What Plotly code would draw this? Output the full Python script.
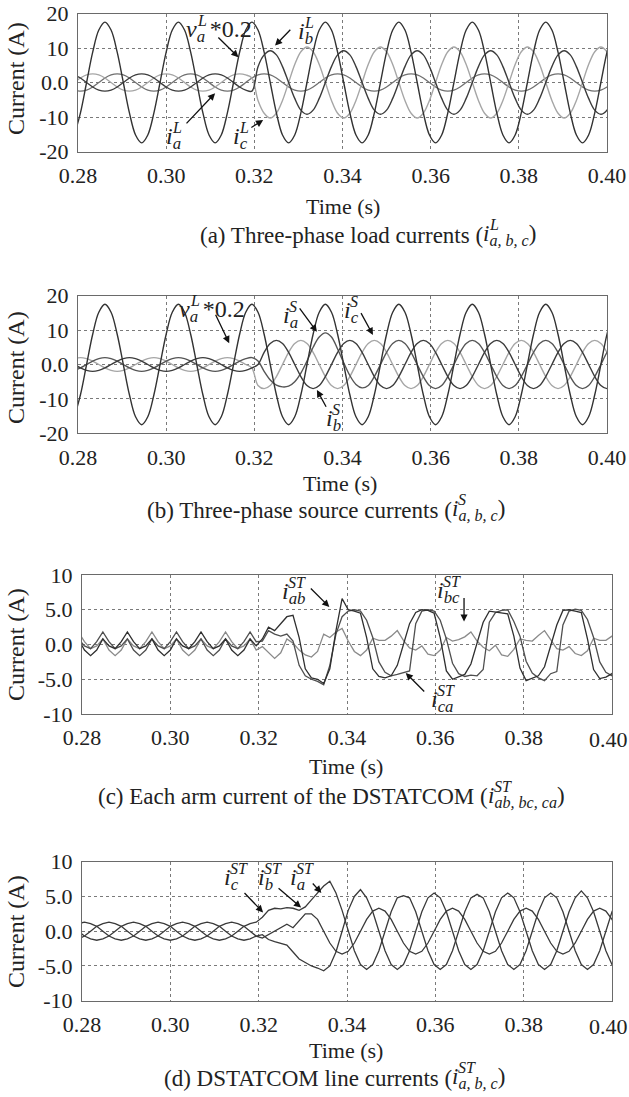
import numpy as np
import plotly.graph_objects as go

# ---------------- sampled data (one sample every 30 electrical degrees, 60 Hz) -------------
SAMPLE_START = 0.279167   # s, first sample instant
SAMPLE_STEP = 1 / 720     # s, sampling step

# (a) load side
VA = [
    -15.2, -8.8, 0.0, 8.8, 15.2, 17.5, 15.2, 8.8, 0.0, -8.8, -15.2, -17.5,
    -15.2, -8.8, 0.0, 8.8, 15.2, 17.5, 15.2, 8.8, 0.0, -8.8, -15.2, -17.5,
    -15.2, -8.8, 0.0, 8.8, 15.2, 17.5, 15.2, 8.8, 0.0, -8.8, -15.2, -17.5,
    -15.2, -8.8, 0.0, 8.8, 15.2, 17.5, 15.2, 8.8, 0.0, -8.8, -15.2, -17.5,
    -15.2, -8.8, 0.0, 8.8, 15.2, 17.5, 15.2, 8.8, 0.0, -8.8, -15.2, -17.5,
    -15.2, -8.8, 0.0, 8.8, 15.2, 17.5, 15.2, 8.8, 0.0, -8.8, -15.2, -17.5,
    -15.2, -8.8, 0.0, 8.8, 15.2, 17.5, 15.2, 8.8, 0.0, -8.8, -15.2, -17.5,
    -15.2, -8.8, 0.0, 8.8, 15.2]
IA_L = [
    -2.2, -2.5, -2.2, -1.3, 0.0, 1.3, 2.2, 2.5, 2.2, 1.3, 0.0, -1.3,
    -2.2, -2.5, -2.2, -1.3, 0.0, 1.3, 2.2, 2.5, 2.2, 1.3, 0.0, -1.3,
    -2.2, -2.5, -2.2, -1.3, 0.0, 1.3, 2.2, 2.5, 2.2, 1.3, 0.0, -1.3,
    -2.2, -2.5, -2.2, -1.3, 0.0, 1.3, 2.2, 2.5, 2.2, 1.3, 0.0, -1.3,
    -2.2, -2.5, -2.2, -1.3, 0.0, 1.3, 2.2, 2.5, 2.2, 1.3, 0.0, -1.3,
    -2.2, -2.5, -2.2, -1.3, 0.0, 1.3, 2.2, 2.5, 2.2, 1.3, 0.0, -1.3,
    -2.2, -2.5, -2.2, -1.3, 0.0, 1.3, 2.2, 2.5, 2.2, 1.3, 0.0, -1.3,
    -2.2, -2.5, -2.2, -1.3, 0.0]
IB_L = [
    2.2, 1.3, 0.0, -1.3, -2.2, -2.5, -2.2, -1.3, 0.0, 1.3, 2.2, 2.5,
    2.2, 1.3, 0.0, -1.3, -2.2, -2.5, -2.2, -1.3, 0.0, 1.3, 2.2, 2.5,
    2.2, 1.3, 0.0, -1.3, -2.2, -2.5, 4.6, 8.0, 9.2, 8.0, 4.6, 0.0,
    -4.6, -8.0, -9.2, -8.0, -4.6, 0.0, 4.6, 8.0, 9.2, 8.0, 4.6, 0.0,
    -4.6, -8.0, -9.2, -8.0, -4.6, 0.0, 4.6, 8.0, 9.2, 8.0, 4.6, 0.0,
    -4.6, -8.0, -9.2, -8.0, -4.6, 0.0, 4.6, 8.0, 9.2, 8.0, 4.6, 0.0,
    -4.6, -8.0, -9.2, -8.0, -4.6, 0.0, 4.6, 8.0, 9.2, 8.0, 4.6, 0.0,
    -4.6, -8.0, -9.2, -8.0, -4.6]
IC_L = [
    0.0, 1.3, 2.2, 2.5, 2.2, 1.3, 0.0, -1.3, -2.2, -2.5, -2.2, -1.3,
    0.0, 1.3, 2.2, 2.5, 2.2, 1.3, 0.0, -1.3, -2.2, -2.5, -2.2, -1.3,
    0.0, 1.3, 2.2, 2.5, 2.2, 1.3, -5.2, -8.9, -10.3, -8.9, -5.2, 0.0,
    5.2, 8.9, 10.3, 8.9, 5.2, 0.0, -5.2, -8.9, -10.3, -8.9, -5.2, 0.0,
    5.2, 8.9, 10.3, 8.9, 5.2, 0.0, -5.2, -8.9, -10.3, -8.9, -5.2, 0.0,
    5.2, 8.9, 10.3, 8.9, 5.2, 0.0, -5.2, -8.9, -10.3, -8.9, -5.2, 0.0,
    5.2, 8.9, 10.3, 8.9, 5.2, 0.0, -5.2, -8.9, -10.3, -8.9, -5.2, 0.0,
    5.2, 8.9, 10.3, 8.9, 5.2]

# (b) source side
IA_S = [
    -1.7, -1.0, 0.0, 1.0, 1.7, 2.0, 1.7, 1.0, 0.0, -1.0, -1.7, -2.0,
    -1.7, -1.0, 0.0, 1.0, 1.7, 2.0, 1.7, 1.0, 0.0, -1.0, -1.7, -2.0,
    -1.7, -1.0, 0.0, 1.0, 1.7, 2.0, 1.0, -2.0, -4.5, -6.0, -6.5, -6.3,
    -5.0, -2.5, 1.0, 5.0, 8.0, 9.2, 8.0, 4.5, 0.5, -3.2, -5.8, -6.8,
    -6.1, -3.5, 0.0, 3.5, 6.1, 7.0, 6.1, 3.5, 0.0, -3.5, -6.1, -7.0,
    -6.1, -3.5, 0.0, 3.5, 6.1, 7.0, 6.1, 3.5, 0.0, -3.5, -6.1, -7.0,
    -6.1, -3.5, 0.0, 3.5, 6.1, 7.0, 6.1, 3.5, 0.0, -3.5, -6.1, -7.0,
    -6.1, -3.5, 0.0, 3.5, 6.1]
IB_S = [
    0.0, -1.0, -1.7, -2.0, -1.7, -1.0, 0.0, 1.0, 1.7, 2.0, 1.7, 1.0,
    0.0, -1.0, -1.7, -2.0, -1.7, -1.0, 0.0, 1.0, 1.7, 2.0, 1.7, 1.0,
    0.0, -1.0, -1.7, -2.0, -1.7, -1.0, 0.0, 3.5, 6.1, 7.0, 6.1, 3.5,
    0.0, -3.5, -6.1, -7.0, -6.1, -3.5, 0.0, 3.5, 6.1, 7.0, 6.1, 3.5,
    0.0, -3.5, -6.1, -7.0, -6.1, -3.5, 0.0, 3.5, 6.1, 7.0, 6.1, 3.5,
    0.0, -3.5, -6.1, -7.0, -6.1, -3.5, 0.0, 3.5, 6.1, 7.0, 6.1, 3.5,
    0.0, -3.5, -6.1, -7.0, -6.1, -3.5, 0.0, 3.5, 6.1, 7.0, 6.1, 3.5,
    0.0, -3.5, -6.1, -7.0, -6.1]
IC_S = [
    1.7, 2.0, 1.7, 1.0, 0.0, -1.0, -1.7, -2.0, -1.7, -1.0, 0.0, 1.0,
    1.7, 2.0, 1.7, 1.0, 0.0, -1.0, -1.7, -2.0, -1.7, -1.0, 0.0, 1.0,
    1.7, 2.0, 1.7, 1.0, 0.0, -1.0, -6.1, -7.0, -6.1, -3.5, 0.0, 3.5,
    6.1, 7.0, 6.1, 3.5, 0.0, -3.5, -6.1, -7.0, -6.1, -3.5, 0.0, 3.5,
    6.1, 7.0, 6.1, 3.5, 0.0, -3.5, -6.1, -7.0, -6.1, -3.5, 0.0, 3.5,
    6.1, 7.0, 6.1, 3.5, 0.0, -3.5, -6.1, -7.0, -6.1, -3.5, 0.0, 3.5,
    6.1, 7.0, 6.1, 3.5, 0.0, -3.5, -6.1, -7.0, -6.1, -3.5, 0.0, 3.5,
    6.1, 7.0, 6.1, 3.5, 0.0]

# (c) DSTATCOM arm currents
IAB_ST = [
    0.8, -0.8, -1.6, -0.8, 0.8, -0.2, -0.6, 0.4, 1.8, 0.4, -0.6, -0.2,
    0.8, -0.8, -1.6, -0.8, 0.8, -0.2, -0.6, 0.4, 1.8, 0.4, -0.6, -0.2,
    0.8, -0.8, -1.6, -0.8, 0.8, -0.2, 0.8, 2.5, 2.0, 3.0, 4.0, 4.2,
    1.0, -3.5, -4.8, -5.0, -5.6, -3.5, 2.0, 6.6, 5.0, 4.8, 4.5, 1.0,
    -3.5, -4.6, -4.8, -4.5, -3.0, 0.0, 3.0, 4.6, 5.0, 4.9, 4.5, 1.0,
    -3.8, -5.0, -4.7, -4.3, -2.8, 0.3, 3.2, 4.8, 4.7, 4.5, 4.4, 1.2,
    -3.4, -5.2, -4.9, -4.5, -3.2, -0.2, 2.8, 4.9, 5.0, 4.8, 4.6, 0.8,
    -3.6, -4.9, -4.7, -4.2, -3.0]
IBC_ST = [
    1.8, 0.4, -0.6, -0.2, 0.8, -0.8, -1.6, -0.8, 0.8, -0.2, -0.6, 0.4,
    1.8, 0.4, -0.6, -0.2, 0.8, -0.8, -1.6, -0.8, 0.8, -0.2, -0.6, 0.4,
    1.8, 0.4, -0.6, -0.2, 0.8, -0.8, -0.3, -1.2, -2.0, -1.2, 0.8, 0.2,
    -0.8, -1.5, -1.8, -1.0, 1.5, 1.0, 1.8, 2.3, 0.5, -1.0, -1.6, -0.8,
    0.9, 0.6, 0.6, 1.2, 2.0, 0.6, -0.5, -0.8, -0.2, -1.4, -1.6, -0.8,
    1.0, 0.5, 0.7, 1.1, 1.8, 0.5, -0.4, -0.9, -0.1, -1.5, -1.7, -0.7,
    0.8, 0.6, 0.5, 1.3, 2.0, 0.7, -0.6, -0.8, -0.3, -1.3, -1.6, -0.9,
    0.9, 0.6, 0.6, 1.2, 2.1]
ICA_ST = [
    0.8, -0.2, -0.6, 0.4, 1.8, 0.4, -0.6, -0.2, 0.8, -0.8, -1.6, -0.8,
    0.8, -0.2, -0.6, 0.4, 1.8, 0.4, -0.6, -0.2, 0.8, -0.8, -1.6, -0.8,
    0.8, -0.2, -0.6, 0.4, 1.8, 0.4, 0.5, 2.0, 1.5, 1.2, 1.5, 0.5,
    -3.0, -4.5, -5.0, -5.3, -5.8, -3.0, 1.5, 4.0, 4.8, 5.0, 4.8, 3.5,
    1.0, -2.5, -4.0, -4.5, -4.3, -4.0, -3.8, 3.0, 4.8, 5.0, 4.8, 3.5,
    0.8, -2.7, -4.2, -4.6, -4.4, -4.5, -3.6, 3.2, 4.6, 4.9, 5.0, 3.3,
    1.2, -2.4, -4.1, -4.8, -5.2, -4.2, -3.9, 2.8, 4.8, 5.1, 4.9, 3.6,
    1.0, -2.5, -4.0, -4.5, -4.3]

# (d) DSTATCOM line currents
IA_ST = [
    -1.1, -0.7, 0.0, 0.7, 1.1, 1.3, 1.1, 0.7, 0.0, -0.7, -1.1, -1.3,
    -1.1, -0.7, 0.0, 0.7, 1.1, 1.3, 1.1, 0.7, 0.0, -0.7, -1.1, -1.3,
    -1.1, -0.7, 0.0, 0.7, 1.1, 1.3, 2.0, 3.0, 3.3, 3.2, 3.4, 3.3,
    3.0, 3.5, 4.5, 5.5, 6.5, 7.2, 5.5, 3.0, 0.0, -2.8, -4.8, -5.5,
    -4.8, -2.8, 0.0, 2.8, 4.8, 5.1, 4.8, 2.8, 0.0, -2.8, -4.8, -5.5,
    -4.8, -2.8, 0.0, 2.8, 4.8, 5.3, 4.8, 2.8, 0.0, -2.8, -4.8, -5.5,
    -4.8, -2.8, 0.0, 2.8, 4.8, 5.5, 4.8, 2.8, 0.0, -2.8, -4.8, -5.5,
    -4.8, -2.8, 0.0, 2.8, 4.8]
IB_ST = [
    1.1, 1.3, 1.1, 0.7, 0.0, -0.7, -1.1, -1.3, -1.1, -0.7, 0.0, 0.7,
    1.1, 1.3, 1.1, 0.7, 0.0, -0.7, -1.1, -1.3, -1.1, -0.7, 0.0, 0.7,
    1.1, 1.3, 1.1, 0.7, 0.0, -0.7, -1.0, -0.5, 0.0, 0.5, 1.0, 0.5,
    1.5, 2.5, 2.5, 1.7, 0.0, -1.7, -2.9, -3.3, -2.9, -1.7, 0.0, 1.7,
    2.9, 3.3, 2.9, 1.7, 0.0, -1.7, -2.9, -3.3, -2.9, -1.7, 0.0, 1.7,
    2.9, 3.3, 2.9, 1.7, 0.0, -1.7, -2.9, -3.3, -2.9, -1.7, 0.0, 1.7,
    2.9, 3.3, 2.9, 1.7, 0.0, -1.7, -2.9, -3.3, -2.9, -1.7, 0.0, 1.7,
    2.9, 3.3, 2.9, 1.7, 0.0]
IC_ST = [
    0.0, -0.7, -1.1, -1.3, -1.1, -0.7, 0.0, 0.7, 1.1, 1.3, 1.1, 0.7,
    0.0, -0.7, -1.1, -1.3, -1.1, -0.7, 0.0, 0.7, 1.1, 1.3, 1.1, 0.7,
    0.0, -0.7, -1.1, -1.3, -1.1, -0.7, -0.5, -1.2, -1.5, -1.8, -2.0, -3.0,
    -4.0, -4.5, -5.0, -5.3, -5.7, -5.0, -3.0, 0.0, 3.0, 5.0, 6.0, 4.8,
    2.8, 0.0, -2.8, -4.8, -5.5, -4.8, -2.8, 0.0, 2.8, 4.8, 5.5, 4.8,
    2.8, 0.0, -2.8, -4.8, -5.5, -4.8, -2.8, 0.0, 2.8, 4.8, 5.5, 4.8,
    2.8, 0.0, -2.8, -4.8, -5.5, -4.8, -2.8, 0.0, 2.8, 4.8, 5.8, 4.8,
    2.8, 0.0, -2.8, -4.8, -5.5]

# axes
X_TICKS = [0.28, 0.30, 0.32, 0.34, 0.36, 0.38, 0.40]
X_TICK_LABELS = ["0.28", "0.30", "0.32", "0.34", "0.36", "0.38", "0.40"]
Y_TICKS_AB = [-20, -10, 0, 10, 20]
Y_TICK_LABELS_AB = ["-20", "-10", "0.0", "10", "20"]
Y_TICKS_CD = [-10, -5, 0, 5, 10]
Y_TICK_LABELS_CD = ["-10", "-5.0", "0.0", "5.0", "10"]

# ---------------- figure ----------------
W, H = 629, 1097
FONT = "Liberation Serif, Times New Roman, Times, serif"
INK = "#222222"
t = SAMPLE_START + SAMPLE_STEP * np.arange(len(VA))


def px(x):
    return x / W


def py(y):
    return 1 - y / H


fig = go.Figure()


def add(y, ax, color, shape="spline", width=1.4):
    fig.add_trace(go.Scatter(
        x=t, y=y, mode="lines", xaxis="x" + ax, yaxis="y" + ax,
        line=dict(color=color, width=width, shape=shape, smoothing=1.0),
        showlegend=False, hoverinfo="skip"))


add(IA_L, "", "#707070")
add(IC_L, "", "#a6a6a6")
add(IB_L, "", "#3c3c3c")
add(VA, "", "#333333")

add(IC_S, "2", "#a6a6a6")
add(IA_S, "2", "#555555")
add(IB_S, "2", "#3c3c3c")
add(VA, "2", "#333333")

add(IBC_ST, "3", "#8a8a8a", shape="linear", width=1.3)
add(ICA_ST, "3", "#4f4f4f", shape="linear", width=1.3)
add(IAB_ST, "3", "#2f2f2f", shape="linear", width=1.3)

add(IA_ST, "4", "#3a3a3a", shape="linear", width=1.3)
add(IB_ST, "4", "#3a3a3a", shape="linear", width=1.3)
add(IC_ST, "4", "#3a3a3a", shape="linear", width=1.3)

tickfont = dict(family=FONT, size=22, color=INK)
common = dict(showgrid=True, gridcolor="#7a7a7a", griddash="dot", gridwidth=1,
              showline=True, mirror=True, linecolor="#6a6a6a", linewidth=1,
              zeroline=False, ticks="", tickfont=tickfont, fixedrange=True,
              automargin=False)

# panel: suffix, x-extent px, y-extent px, y-range, y ticks, y labels, last x label drawn by axis
panels = [
    ("", (78, 607), (13.5, 151.5), (-20, 20), Y_TICKS_AB, Y_TICK_LABELS_AB, True),
    ("2", (78, 607), (295.7, 433.3), (-20, 20), Y_TICKS_AB, Y_TICK_LABELS_AB, True),
    ("3", (82, 612), (575, 714), (-10, 10), Y_TICKS_CD, Y_TICK_LABELS_CD, False),
    ("4", (82, 612), (861.7, 1000.7), (-10, 10), Y_TICKS_CD, Y_TICK_LABELS_CD, False),
]
lay = {}
ann = []


def text(x, y, s, size=22, anchor="center"):
    ann.append(dict(x=px(x), y=py(y), xref="paper", yref="paper", text=s,
                    showarrow=False, font=dict(family=FONT, size=size, color=INK),
                    xanchor=anchor, yanchor="middle", borderpad=0))


for suf, (x0, x1), (y0, y1), yr, yt, ytl, full in panels:
    xl = X_TICK_LABELS if full else X_TICK_LABELS[:-1] + [""]
    lay["xaxis" + suf] = dict(common, domain=[px(x0), px(x1)], range=[0.28, 0.40],
                              tickvals=X_TICKS, ticktext=xl,
                              anchor="y" + suf, ticklabelstandoff=4,
                              ticklabeloverflow="allow")
    lay["yaxis" + suf] = dict(common, domain=[py(y1), py(y0)], range=list(yr),
                              tickvals=yt, ticktext=ytl, anchor="x" + suf,
                              ticklabelstandoff=4)
    if not full:
        text(629, y1 + 25.5, X_TICK_LABELS[-1], 22, "right")

fig.update_layout(width=W, height=H, margin=dict(l=0, r=0, t=0, b=0, autoexpand=False),
                  paper_bgcolor="white", plot_bgcolor="white",
                  font=dict(family=FONT, color=INK), **lay)


def sym(x_left, y_c, base, sub, sup, tail="", size=24, base_w=6):
    """symbol with stacked superscript / subscript (e.g. i^L_a)"""
    text(x_left, y_c, "<i>%s</i><sub><i>%s</i></sub>%s" % (base, sub, tail), size, "left")
    text(x_left + base_w, y_c - 0.44 * size, "<i>%s</i>" % sup, round(size * 0.68), "left")


def arrow(ax_name, x, y, dx, dy):
    ann.append(dict(x=x, y=y, xref="x" + ax_name, yref="y" + ax_name, text="",
                    showarrow=True, ax=dx, ay=dy, arrowhead=2, arrowsize=1.1,
                    arrowwidth=1.3, arrowcolor="#111"))


# axis titles and captions
for yc, yt_, cap_y, x_i, t_x, cap, sub, sup in [
    (79, 206.7, 235, 483, 343, "(a) Three-phase load currents (", "a, b, c", "L"),
    (368, 483.3, 510, 452, 340, "(b) Three-phase source currents (", "a, b, c", "S"),
    (645, 766.7, 796.7, 488, 346, "(c) Each arm current of the DSTATCOM (", "ab, bc, ca", "ST"),
    (932, 1050, 1078, 452, 346, "(d) DSTATCOM line currents (", "a, b, c", "ST"),
]:
    ann.append(dict(x=px(16), y=py(yc), xref="paper", yref="paper", text="Current (A)",
                    textangle=-90, showarrow=False, xanchor="center", yanchor="middle",
                    font=dict(family=FONT, size=24, color=INK)))
    text(t_x, yt_, "Time (s)", 22)
    text(x_i + 1, cap_y, cap, 23, "right")
    sym(x_i - 1, cap_y, "i", sub, sup, ")", size=23, base_w=6)

# in-plot labels
sym(185, 31, "v", "a", "L", "\u2009*0.2", base_w=11)
sym(297, 33, "i", "b", "L")
sym(165, 138, "i", "a", "L")
sym(232, 138, "i", "c", "L")
arrow("", 0.3164, 7.3, -21.6, -21.3)
arrow("", 0.3247, 10.7, 16.7, -17.4)
arrow("", 0.3111, -3.1, -30, 31.7)
arrow("", 0.3220, -10.9, -13.3, 8.3)

sym(178, 311, "v", "a", "L", "\u2009*0.2", base_w=11)
sym(282, 317, "i", "a", "S")
sym(343, 312, "i", "c", "S")
sym(325, 420, "i", "b", "S")
arrow("2", 0.3143, 6.2, -14.3, -30)
arrow("2", 0.3342, 9.5, -18.4, -25)
arrow("2", 0.3469, 8.6, -12.7, -23.3)
arrow("2", 0.3342, -7.4, 10, 18.3)

sym(281, 593, "i", "ab", "ST")
sym(436, 592, "i", "bc", "ST")
sym(430, 701, "i", "ca", "ST")
arrow("3", 0.3360, 5.4, -20, -20)
arrow("3", 0.3665, 3.3, 0, -25)
arrow("3", 0.3533, -4.1, 20, 20)

sym(223, 879, "i", "c", "ST")
sym(257, 879, "i", "b", "ST")
sym(289, 879, "i", "a", "ST")
arrow("4", 0.3210, 2.7, -20, -21)
arrow("4", 0.3296, 3.4, -24, -20.6)
arrow("4", 0.3342, 5.5, -10, -11)

fig.update_layout(annotations=ann)
fig.write_html("out.html", config={"displayModeBar": False},
               post_script="document.body.style.margin='0px';")
